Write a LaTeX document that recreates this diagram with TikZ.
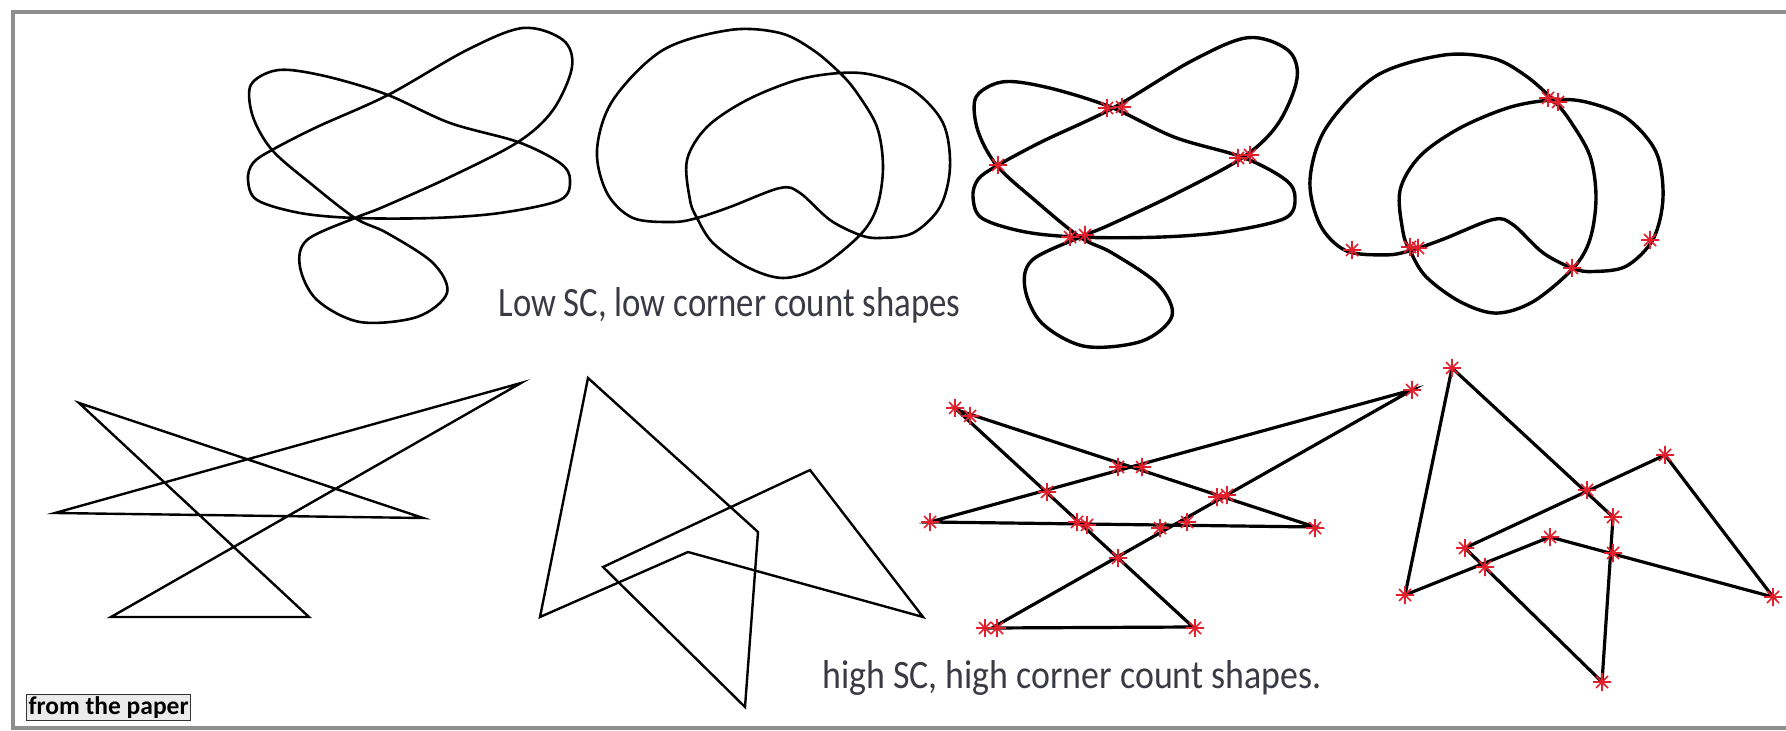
\documentclass[tikz,border=0pt]{standalone}
\usepackage{fontspec}
\setmainfont{Carlito}
\usepackage{graphicx}
\definecolor{framegray}{HTML}{8E8E8E}
\definecolor{starred}{HTML}{E0202C}
\definecolor{txtgray}{HTML}{3A3A44}
\newcommand\curveA[1]{\draw[#1] plot[smooth cycle, tension=0.55] coordinates {(290,70) (333,78) (388,95) (450,123) (518,142) (560,163) (570,180) (560,200) (500,213) (433,218) (355,218) (300,213) (257,200) (248,180) (253,163) (272,150) (317,127) (388,95) (467,50) (523,28) (563,40) (572,67) (553,110) (518,142) (450,177) (383,207) (355,218) (307,240) (300,267) (317,300) (360,322) (417,317) (447,293) (433,263) (387,233) (355,218) (310,183) (272,150) (253,117) (250,87) (267,73)};}
\newcommand\curveB[1]{\draw[#1] plot[smooth cycle, tension=0.55] coordinates {(730,30) (663,50) (613,100) (597,150) (607,193) (633,218) (673,222) (697,218) (730,207) (780,188) (800,193) (830,220) (860,235) (880,238) (913,233) (940,207) (950,167) (943,123) (913,90) (873,75) (840,73) (797,80) (747,100) (707,127) (687,160) (690,200) (697,218) (713,243) (747,267) (783,278) (820,267) (860,235) (877,207) (883,167) (877,127) (857,93) (840,73) (813,50) (780,33)};}
\tikzset{
  curve/.style={line width=1.3pt, black, line join=round},
  boldcurve/.style={line width=1.7pt, black, line join=round},
  poly/.style={line width=1.2pt, black, line join=miter},
  boldpoly/.style={line width=1.6pt, black, line join=miter},
  starline/.style={starred, line width=0.85pt},
  rstar/.pic={\draw[starline] (-9,0)--(9,0) (0,-9)--(0,9) (-6,-6)--(6,6) (-6,6)--(6,-6);},
  caption/.style={anchor=base west, inner sep=0pt, text=txtgray},
}
\begin{document}
\begin{tikzpicture}[x=0.5pt,y=-0.5pt]
\useasboundingbox (0,0) rectangle (1786,731);
\fill[white] (0,0) rectangle (1786,731);
% frame
\draw[framegray, line width=2pt] (1800,12) -- (13,12) -- (13,728) -- (1800,728);

% ---- top row ----
\curveA{curve}
\curveB{curve}
\begin{scope}[shift={(725,8.25)}, yscale=1.05]
  \curveA{boldcurve}
\end{scope}
\begin{scope}[shift={(713,24)}, yscale=1.04]
  \curveB{boldcurve}
\end{scope}
\foreach \p in {(1107,108),(1122,107),(998,165),(1238,158),(1250,155),(1070,237),(1085,235)}
  \pic at \p {rstar};
\foreach \p in {(1548,98),(1558,102),(1410,247),(1418,248),(1572,268),(1352,250),(1650,240)}
  \pic at \p {rstar};

\node[caption] (lowtxt) at (498,317) {\resizebox{231pt}{14.5pt}{Low SC, low corner count shapes}};

% ---- bottom row ----
% shape 5
\coordinate (a1) at (79,403);
\coordinate (a2) at (423,518);
\coordinate (a3) at (55,513);
\coordinate (a4) at (521,383);
\coordinate (a5) at (111,617);
\coordinate (a6) at (309,617);
\draw[poly] (a1) -- (a2) -- (a3) -- (a4) -- (a5) -- (a6) -- cycle;
% shape 6
\coordinate (b1) at (588,378);
\coordinate (b2) at (758,532);
\coordinate (b3) at (745,707);
\coordinate (b4) at (603,567);
\coordinate (b5) at (810,470);
\coordinate (b6) at (923,617);
\coordinate (b7) at (688,552);
\coordinate (b8) at (540,617);
\draw[poly] (b1) -- (b2) -- (b3) -- (b4) -- (b5) -- (b6) -- (b7) -- (b8) -- cycle;
% shape 7
\coordinate (c1) at (957,410);
\coordinate (c2) at (1315,527);
\coordinate (c3) at (930,522);
\coordinate (c4) at (1412,390);
\coordinate (c5) at (992,628);
\coordinate (c6) at (1193,627);
\draw[boldpoly] (c1) -- (c2) -- (c3) -- (c4) -- (c5) -- (c6) -- cycle;
\foreach \p in {(955,408),(970,416),(1315,528),(930,522),(1412,390),(985,628),(997,628),(1195,628),
  (1118,467),(1142,467),(1047,492),(1217,497),(1227,495),(1077,522),(1087,525),(1160,528),(1187,522),(1118,558)}
  \pic at \p {rstar};
% shape 8
\coordinate (d1) at (1452,368);
\coordinate (d2) at (1613,517);
\coordinate (d3) at (1602,682);
\coordinate (d4) at (1465,548);
\coordinate (d5) at (1665,455);
\coordinate (d6) at (1773,597);
\coordinate (d7) at (1550,537);
\coordinate (d8) at (1405,595);
\draw[boldpoly] (d1) -- (d2) -- (d3) -- (d4) -- (d5) -- (d6) -- (d7) -- (d8) -- cycle;
\foreach \p in {(1452,368),(1613,517),(1602,682),(1465,548),(1665,455),(1773,597),(1550,537),(1405,595),
  (1587,490),(1485,567),(1613,553)}
  \pic at \p {rstar};

\node[caption] (hightxt) at (822,688) {\resizebox{249.5pt}{14pt}{high SC, high corner count shapes.}};

\node[draw=black!80, fill=black!8, line width=0.6pt, inner sep=1pt, anchor=south west] (src) at (26,721)
  {\resizebox{80pt}{!}{\bfseries from the paper}};
\end{tikzpicture}
\end{document}
